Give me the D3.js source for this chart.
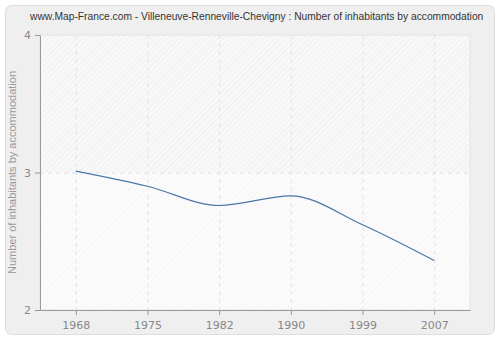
<!DOCTYPE html>
<html>
<head>
<meta charset="utf-8">
<script src="https://cdn.jsdelivr.net/npm/d3@7"></script>
<style>
  body { margin: 0; background: #fff; }
  svg { display: block; font-family: "DejaVu Sans", Verdana, sans-serif; }
</style>
</head>
<body>
<div id="chart"></div>
<script>
// data
var years = ["1968", "1975", "1982", "1990", "1999", "2007"];
var inhabitants = [3.01, 2.90, 2.76, 2.83, 2.62, 2.36];
var yTicks = [2, 3, 4];

var W = 500, H = 340;
var margin = { top: 35, right: 30, bottom: 30, left: 40 };
var width = W - margin.left - margin.right,
    height = H - margin.top - margin.bottom;

var svg = d3.select("#chart").append("svg")
  .attr("width", W)
  .attr("height", H);

var defs = svg.append("defs");
var pat = defs.append("pattern")
  .attr("id", "hatch")
  .attr("patternUnits", "userSpaceOnUse")
  .attr("width", 4).attr("height", 4)
  .attr("patternTransform", "rotate(45)");
pat.append("rect").attr("width", 4).attr("height", 4).attr("fill", "#f8f8f8");
pat.append("line").attr("x1", 0).attr("y1", 0).attr("x2", 0).attr("y2", 4)
  .attr("stroke", "#ebebeb").attr("stroke-width", 1.2);

var pat2 = defs.append("pattern")
  .attr("id", "hatch2")
  .attr("patternUnits", "userSpaceOnUse")
  .attr("width", 4).attr("height", 4)
  .attr("patternTransform", "rotate(45)");
pat2.append("rect").attr("width", 4).attr("height", 4).attr("fill", "#fbfbfb");
pat2.append("line").attr("x1", 0).attr("y1", 0).attr("x2", 0).attr("y2", 4)
  .attr("stroke", "#f3f3f3").attr("stroke-width", 1.2);

// outer panel
svg.append("rect")
  .attr("x", 5.5).attr("y", 5.5)
  .attr("width", W - 11).attr("height", H - 11)
  .attr("rx", 6)
  .attr("fill", "#efefef")
  .attr("stroke", "#dedede");

// title: shrink the font until it fits inside the picture
var title = svg.append("text")
  .attr("x", 30).attr("y", 20)
  .attr("font-family", "Liberation Sans, Arial, sans-serif")
  .attr("font-size", 11.5)
  .attr("fill", "#333")
  .text("www.Map-France.com - Villeneuve-Renneville-Chevigny : Number of inhabitants by accommodation");
var fs = 11.5;
while (title.node().getComputedTextLength() > W - 36 && fs > 8) {
  fs -= 0.25;
  title.attr("font-size", fs);
}

var x = d3.scalePoint().domain(years).range([0, width]).padding(0.5);
var y = d3.scaleLinear().domain([2, 4]).range([height, 0]);

var g = svg.append("g")
  .attr("transform", "translate(" + margin.left + "," + margin.top + ")");

// plot background, two bands
g.append("rect")
  .attr("x", 0).attr("y", y(4))
  .attr("width", width).attr("height", y(3) - y(4))
  .attr("fill", "url(#hatch)");
g.append("rect")
  .attr("x", 0).attr("y", y(3))
  .attr("width", width).attr("height", y(2) - y(3))
  .attr("fill", "url(#hatch2)");
g.append("rect")
  .attr("x", 0).attr("y", 0)
  .attr("width", width).attr("height", height)
  .attr("fill", "none")
  .attr("stroke", "#e4e4e4");

// grid
g.selectAll(".vgrid").data(years).enter().append("line")
  .attr("x1", function (d) { return x(d) + 0.5; })
  .attr("x2", function (d) { return x(d) + 0.5; })
  .attr("y1", 0).attr("y2", height)
  .attr("stroke", "#e2e2e2")
  .attr("stroke-dasharray", "4,4");
g.selectAll(".hgrid").data([3]).enter().append("line")
  .attr("x1", 0).attr("x2", width)
  .attr("y1", function (d) { return y(d) + 0.5; })
  .attr("y2", function (d) { return y(d) + 0.5; })
  .attr("stroke", "#e2e2e2")
  .attr("stroke-dasharray", "4,4");

// axes
var xAxis = g.append("g")
  .attr("transform", "translate(0," + height + ")")
  .call(d3.axisBottom(x).tickSize(5).tickPadding(6).tickSizeOuter(0));
var yAxis = g.append("g")
  .call(d3.axisLeft(y).tickValues(yTicks).tickFormat(d3.format("d")).tickSize(5).tickPadding(4).tickSizeOuter(0));

[xAxis, yAxis].forEach(function (a) {
  a.select(".domain").attr("stroke", "#999");
  a.selectAll(".tick line").attr("stroke", "#999");
  a.selectAll(".tick text")
    .attr("fill", "#888")
    .attr("font-size", 11)
    .attr("font-family", "DejaVu Sans, Verdana, sans-serif");
});

svg.append("text")
  .attr("transform", "translate(16," + (margin.top + height / 2) + ") rotate(-90)")
  .attr("text-anchor", "middle")
  .attr("font-family", "Liberation Sans, Arial, sans-serif")
  .attr("font-size", 11)
  .attr("fill", "#999")
  .text("Number of inhabitants by accommodation");

// line
var line = d3.line()
  .x(function (d, i) { return x(years[i]); })
  .y(function (d) { return y(d); })
  .curve(d3.curveMonotoneX);

g.append("path")
  .datum(inhabitants)
  .attr("fill", "none")
  .attr("stroke", "#4a76a8")
  .attr("stroke-width", 1.2)
  .attr("d", line);
</script>
</body>
</html>
